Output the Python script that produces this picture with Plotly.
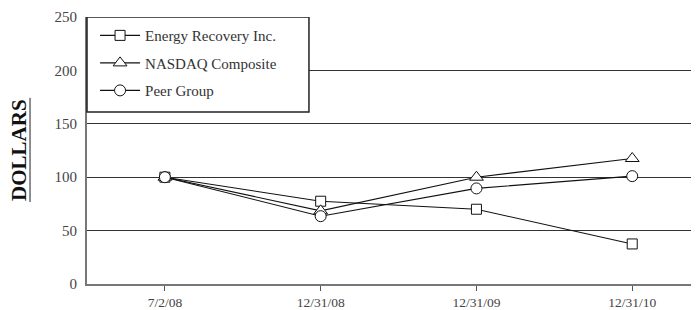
import plotly.graph_objects as go

categories = ["7/2/08", "12/31/08", "12/31/09", "12/31/10"]
eri = [100, 77.5, 70, 37.5]
nasdaq = [100, 68.5, 100, 117.5]
peer = [100, 63.5, 89.5, 101]
y_ticks = [0, 50, 100, 150, 200, 250]

FONT = "Liberation Serif, Times New Roman, serif"
xs = list(range(len(categories)))

fig = go.Figure()
series = [
    ("Energy Recovery Inc.", eri, "square", 10),
    ("NASDAQ Composite", nasdaq, "triangle-up", 12),
    ("Peer Group", peer, "circle", 11),
]
for i, (name, vals, sym, sz) in enumerate(series):
    fig.add_trace(go.Scatter(
        x=xs, y=vals, name=name, mode="lines+markers", legendgroup=f"g{i}",
        line=dict(color="#111", width=1.1),
        marker=dict(symbol=sym, size=sz, color="white", line=dict(color="#111", width=1)),
        cliponaxis=False,
    ))

# legend frame
fig.add_shape(type="rect", xref="paper", yref="y", x0=0, x1=0.358, y0=161, y1=250,
              fillcolor="white", line=dict(color="#222", width=1.5), layer="above")
# underline of the axis title
fig.add_shape(type="line", xref="paper", yref="paper", x0=-0.0919, x1=-0.0919,
              y0=0.307, y1=0.697, line=dict(color="#222", width=1))

fig.update_layout(
    width=699, height=310,
    margin=dict(l=79, r=0, t=9, b=34),
    plot_bgcolor="white", paper_bgcolor="white",
    font=dict(family=FONT, color="#333", size=15),
    showlegend=True,
    legend=dict(x=0.013, y=0.992, xanchor="left", yanchor="top",
                bgcolor="rgba(0,0,0,0)", borderwidth=0,
                font=dict(family=FONT, size=15, color="#333"),
                tracegroupgap=5, itemwidth=40),
    xaxis=dict(range=[-0.5, 3.48], tickvals=xs, ticktext=categories,
               showgrid=False, zeroline=False, showline=True, linecolor="#777", linewidth=2,
               ticks="outside", ticklen=5, tickcolor="#555", tickwidth=1,
               tickfont=dict(family=FONT, size=13.5, color="#444")),
    yaxis=dict(range=[0, 250], tickvals=y_ticks, showgrid=True, gridcolor="#333", gridwidth=1.3,
               zeroline=False, showline=True, linecolor="#777", linewidth=2,
               ticks="", ticklabelstandoff=5,
               tickfont=dict(family=FONT, size=15, color="#444")),
    annotations=[dict(text="<b>DOLLARS</b>", xref="paper", yref="paper", x=-0.1097, y=0.502,
                      xanchor="center", yanchor="middle",
                      textangle=-90, showarrow=False,
                      font=dict(family=FONT, size=21, color="#111"))],
)

fig.write_html("out.html")
